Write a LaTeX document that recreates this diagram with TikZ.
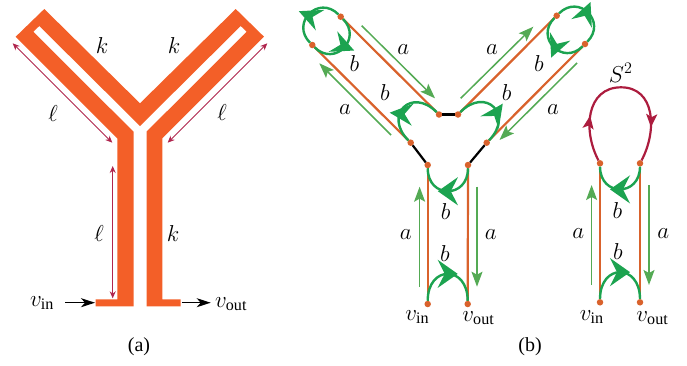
\documentclass[tikz,border=0pt]{standalone}
\usepackage{fix-cm}
\usepackage{amsmath}
\usepackage{amssymb}
\usepackage{fontspec}
\setmainfont{Liberation Serif}
\usetikzlibrary{arrows.meta}
\usetikzlibrary{decorations.markings}
\definecolor{bandorange}{RGB}{243,95,40}
\definecolor{wireorange}{RGB}{217,98,44}
\definecolor{loopgreen}{RGB}{28,163,80}
\definecolor{thingreen}{RGB}{84,170,84}
\definecolor{sphered}{RGB}{172,28,62}
\definecolor{dimred}{RGB}{176,38,78}
\tikzset{
dot/.style = {circle, fill=wireorange, minimum size=#1,
              inner sep=0pt, outer sep=0pt},
dot/.default = 6.5pt, % size of the circle diameter
roundhead/.tip = {Stealth[length=23pt,width=22pt,inset=8pt]},
flathead/.tip = {Stealth[length=20pt,width=28pt,inset=7pt]},
wire/.style = {draw=wireorange, line width=2.2pt},
link/.style = {draw=black, line width=2.2pt},
side/.style = {draw=thingreen, line width=1.5pt, -{Stealth[length=15pt,width=11pt,inset=3pt]}},
dimen/.style = {draw=dimred, line width=0.9pt, {Stealth[length=7pt,width=6pt]}-{Stealth[length=7pt,width=6pt]}},
feed/.style = {draw=black, line width=1.3pt, -{Stealth[length=14pt,width=9pt,inset=4pt]}},
arc/.style n args = {3}{draw=loopgreen, line width=2.4pt, postaction={decorate},
    decoration={markings, mark=at position #1 with {\pgftransformrotate{#2}\pgftransformxshift{10pt}\arrow{#3}}}},
redloop/.style = {draw=sphered, line width=2.2pt, postaction={decorate},
    decoration={markings, mark=at position #1 with {\arrow{Stealth[length=13pt,width=11pt,inset=3pt]}}}},
lab/.style = {inner sep=0pt, font=\fontsize{23}{27}\selectfont},
caption/.style = {inner sep=0pt, font=\fontsize{20}{24}\selectfont}
}
\newcommand{\vertex}[2]{\node[dot] (#1) at (#2) {};}
\newcommand{\wire}[2]{\draw[wire] (#1) -- (#2);}
\newcommand{\link}[2]{\draw[link] (#1) -- (#2);}
\newcommand{\circarc}[2]{\draw[arc={0.53}{-73}{roundhead}] (#1) to[bend right=90, looseness=1.8] (#2);}
\newcommand{\lab}[3]{\node[lab] (#1) at (#2) {#3};}

\begin{document}
\begin{tikzpicture}[x=1pt,y=-1pt]
    \useasboundingbox (0,0) rectangle (687,365);

    % (a)
    \fill[bandorange] (44.3,9) -- (140,103.3) -- (235.7,9) -- (264,36.7) -- (162.3,138.3)
        -- (162.3,299.3) -- (180.7,299.3) -- (180.7,306.3) -- (146.5,306.3) -- (146.5,131.7)
        -- (246.7,31.7) -- (240.7,26) -- (140,126) -- (39.3,26) -- (33.3,31.7) -- (133.5,131.7)
        -- (133.5,306.3) -- (95.7,306.3) -- (95.7,299.3) -- (117.3,299.3) -- (117.3,138.3)
        -- (15.7,36.7) -- cycle;
    \coordinate (d0) at (12.7,43.3);
    \coordinate (d1) at (112.3,142.7);
    \coordinate (d2) at (267.3,43.3);
    \coordinate (d3) at (167.7,142.7);
    \coordinate (d4) at (112.7,166);
    \coordinate (d5) at (112.7,298.3);
    \draw[dimen] (d0) -- (d1);
    \draw[dimen] (d2) -- (d3);
    \draw[dimen] (d4) -- (d5);
    \lab{k0}{102,46}{$k$};
    \lab{k1}{174,46}{$k$};
    \lab{l0}{53,114}{$\ell$};
    \lab{l1}{222,113}{$\ell$};
    \lab{l2}{99,234}{$\ell$};
    \lab{k2}{173,234}{$k$};
    \lab{in0}{42,303}{$v_{\text{in}}$};
    \lab{out0}{231,304}{$v_{\text{out}}$};
    \coordinate (f0) at (65,302.7);
    \coordinate (f1) at (95,302.7);
    \coordinate (f2) at (181.7,302.7);
    \coordinate (f3) at (210.7,302.7);
    \draw[feed] (f0) -- (f1);
    \draw[feed] (f2) -- (f3);
    \node[caption] (capa) at (139,347) {(a)};

    % (b)
    \vertex{1}{340.7,16.7};
    \vertex{2}{312.3,45};
    \vertex{3}{439,114.5};
    \vertex{4}{458,114.5};
    \vertex{5}{410.7,142.7};
    \vertex{6}{486.7,142.7};
    \vertex{7}{427.7,165};
    \vertex{8}{468,165};
    \vertex{9}{427.7,304};
    \vertex{10}{467.7,304};
    \vertex{11}{556.7,15.7};
    \vertex{12}{585,44};
    \wire{1}{3};
    \wire{2}{5};
    \wire{4}{11};
    \wire{6}{12};
    \wire{7}{9};
    \wire{8}{10};
    \link{3}{4};
    \link{5}{7};
    \link{6}{8};
    \circarc{1}{2};
    \circarc{2}{1};
    \circarc{11}{12};
    \circarc{12}{11};
    \draw[arc={0.6}{-75}{roundhead}] (3) to[bend right=90, looseness=2.3] (5);
    \draw[arc={0.42}{-60}{roundhead}] (6) to[bend right=90, looseness=2.3] (4);
    \draw[arc={0.5}{0}{flathead}] (8) to[out=-90, in=-90, looseness=1.95] (7);
    \draw[arc={0.5}{0}{flathead}] (9) to[out=90, in=90, looseness=2.3] (10);
    \coordinate (s0) at (391,135);
    \coordinate (s1) at (319.3,63.3);
    \coordinate (s2) at (361.7,25.7);
    \coordinate (s3) at (435,98.3);
    \coordinate (s4) at (460.7,98.3);
    \coordinate (s5) at (533.3,26.7);
    \coordinate (s6) at (577,63);
    \coordinate (s7) at (499.5,140);
    \coordinate (s8) at (419.6,286.7);
    \coordinate (s9) at (419.6,186.7);
    \coordinate (s10) at (477,186.7);
    \coordinate (s11) at (477,286.7);
    \draw[side] (s0) -- (s1);
    \draw[side] (s2) -- (s3);
    \draw[side] (s4) -- (s5);
    \draw[side] (s6) -- (s7);
    \draw[side] (s8) -- (s9);
    \draw[side] (s10) -- (s11);
    \lab{a0}{403.3,50}{$a$};
    \lab{a1}{345,110}{$a$};
    \lab{a2}{492,50}{$a$};
    \lab{a3}{553,110}{$a$};
    \lab{a4}{405.7,235}{$a$};
    \lab{a5}{490.7,235}{$a$};
    \lab{b0}{354.3,64}{$b$};
    \lab{b1}{385,92.3}{$b$};
    \lab{b2}{506.7,92.3}{$b$};
    \lab{b3}{539,63.3}{$b$};
    \lab{b4}{445.7,211.7}{$b$};
    \lab{b5}{445,254}{$b$};
    \lab{in1}{417.3,317}{$v_{\text{in}}$};
    \lab{out1}{478.3,318}{$v_{\text{out}}$};
    \node[caption] (capb) at (530,347) {(b)};

    % sphere
    \vertex{13}{600,163.3};
    \vertex{14}{640,163.3};
    \vertex{15}{600,302.3};
    \vertex{16}{640,302.3};
    \coordinate (top) at (621,87.3);
    \wire{13}{15};
    \wire{14}{16};
    \draw[redloop=0.5] (13) to[out=118, in=180, looseness=1.15] (top);
    \draw[redloop=0.62] (top) to[out=0, in=62, looseness=1.15] (14);
    \draw[arc={0.5}{0}{flathead}] (14) to[out=-90, in=-90, looseness=1.95] (13);
    \draw[arc={0.5}{0}{flathead}] (15) to[out=90, in=90, looseness=2.3] (16);
    \coordinate (s12) at (591.6,285);
    \coordinate (s13) at (591.6,185);
    \coordinate (s14) at (649,185);
    \coordinate (s15) at (649,285);
    \draw[side] (s12) -- (s13);
    \draw[side] (s14) -- (s15);
    \lab{s2}{620.7,72.7}{$S^2$};
    \lab{a6}{578.3,233.3}{$a$};
    \lab{a7}{663.3,233.3}{$a$};
    \lab{b6}{617.3,211}{$b$};
    \lab{b7}{618,252}{$b$};
    \lab{in2}{591.7,317}{$v_{\text{in}}$};
    \lab{out2}{652.3,318}{$v_{\text{out}}$};
\end{tikzpicture}
\end{document}
